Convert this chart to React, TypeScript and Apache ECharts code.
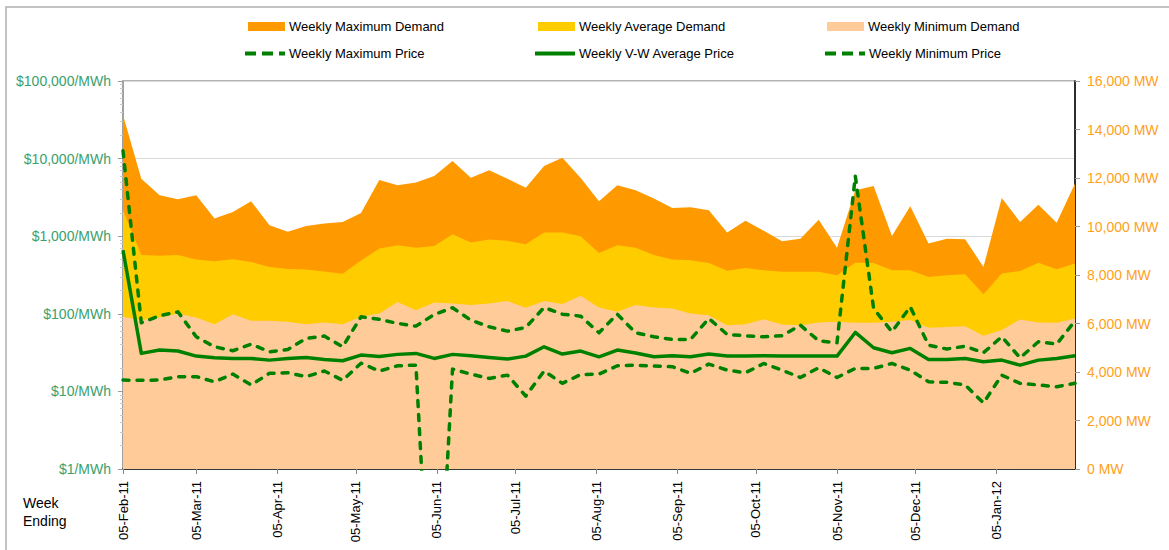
import React, { useEffect, useRef } from "react";
import * as echarts from "echarts";

const weekEnding = [
  "2011-02-05", "2011-02-12", "2011-02-19", "2011-02-26",
  "2011-03-05", "2011-03-12", "2011-03-19", "2011-03-26",
  "2011-04-02", "2011-04-09", "2011-04-16", "2011-04-23", "2011-04-30",
  "2011-05-07", "2011-05-14", "2011-05-21", "2011-05-28",
  "2011-06-04", "2011-06-11", "2011-06-18", "2011-06-25",
  "2011-07-02", "2011-07-09", "2011-07-16", "2011-07-23", "2011-07-30",
  "2011-08-06", "2011-08-13", "2011-08-20", "2011-08-27",
  "2011-09-03", "2011-09-10", "2011-09-17", "2011-09-24",
  "2011-10-01", "2011-10-08", "2011-10-15", "2011-10-22", "2011-10-29",
  "2011-11-05", "2011-11-12", "2011-11-19", "2011-11-26",
  "2011-12-03", "2011-12-10", "2011-12-17", "2011-12-24", "2011-12-31",
  "2012-01-07", "2012-01-14", "2012-01-21", "2012-01-28", "2012-02-04",
];

const tickDates = [
  "2011-02-05", "2011-03-05", "2011-04-05", "2011-05-05", "2011-06-05", "2011-07-05",
  "2011-08-05", "2011-09-05", "2011-10-05", "2011-11-05", "2011-12-05", "2012-01-05",
];
const tickLabels = [
  "05-Feb-11", "05-Mar-11", "05-Apr-11", "05-May-11", "05-Jun-11", "05-Jul-11",
  "05-Aug-11", "05-Sep-11", "05-Oct-11", "05-Nov-11", "05-Dec-11", "05-Jan-12",
];

const maxDemand = [14600, 11970, 11290, 11120, 11290, 10330, 10600, 11040, 10050, 9780, 10020, 10120, 10190, 10560, 11920, 11700, 11810, 12080, 12700, 12010, 12320, 11970, 11600, 12490, 12840, 12000, 11040, 11700, 11490, 11150, 10760, 10790, 10670, 9750, 10240, 9820, 9390, 9500, 10280, 9120, 11490, 11670, 9610, 10830, 9300, 9500, 9470, 8330, 11180, 10190, 10900, 10150, 11770];
const avgDemand = [10670, 8820, 8790, 8820, 8640, 8570, 8650, 8540, 8330, 8250, 8230, 8140, 8050, 8600, 9090, 9230, 9120, 9200, 9680, 9340, 9460, 9410, 9270, 9750, 9750, 9600, 8910, 9230, 9120, 8820, 8640, 8610, 8500, 8180, 8290, 8200, 8130, 8130, 8130, 7990, 8510, 8500, 8200, 8200, 7920, 7990, 8030, 7210, 8060, 8170, 8510, 8240, 8470];
const minDemand = [6280, 6140, 6250, 6410, 6250, 5970, 6380, 6110, 6110, 6070, 5970, 6040, 5970, 6280, 6410, 6890, 6550, 6870, 6820, 6760, 6820, 6930, 6650, 6930, 6800, 7140, 6660, 6480, 6760, 6660, 6620, 6410, 6340, 5930, 5970, 6180, 5960, 5930, 6040, 6070, 6030, 6030, 6070, 6140, 5820, 5860, 5890, 5490, 5730, 6170, 6040, 6030, 6210];
const maxPrice = [12600, 76.6, 94.2, 106, 50.6, 37.6, 33.4, 40.7, 32.4, 34.7, 48.1, 51.6, 37.6, 91.5, 85, 75.1, 69.4, 98, 119.5, 82.9, 68, 59.8, 66.7, 120.7, 99, 93.3, 56.9, 99, 57, 50.6, 46.7, 46.7, 87.1, 54.2, 52.1, 50.6, 52.1, 71.4, 44.9, 42.3, 5950, 117, 58.7, 123, 39.5, 35.1, 38.3, 31.5, 50.6, 27.1, 43.6, 40.7, 81.3];
const vwPrice = [660, 30.9, 34.1, 33.1, 28.5, 27.1, 26.6, 26.6, 25.3, 26.6, 27.4, 25.8, 24.8, 29.4, 28.2, 30, 30.9, 26.6, 30, 28.8, 27.4, 26.1, 28.5, 37.6, 30.3, 33.1, 27.9, 34.1, 31.2, 27.9, 28.8, 27.9, 30.3, 28.5, 28.5, 28.8, 28.5, 28.5, 28.5, 28.5, 57.5, 36.5, 31.5, 35.8, 25.8, 25.8, 26.6, 24.1, 25.3, 21.8, 25.3, 26.6, 28.8];
const minPrice = [14, 13.9, 14, 15.5, 15.5, 13.3, 16.7, 12.1, 17.1, 17.4, 15.5, 18.3, 13.9, 23.1, 18.3, 21.4, 21.8, 0.001, 19.4, 16.7, 14.7, 16.2, 8.7, 18.3, 12.7, 16.5, 16.7, 21.4, 21.8, 21.2, 20.8, 17.1, 22.5, 18.8, 17.4, 22.9, 18.8, 15.1, 20.2, 15.1, 19.8, 19.8, 22.9, 18.8, 13.3, 13.1, 12.1, 7.1, 16.2, 12.7, 12.1, 11.5, 12.7];

const minorPriceTicks = [
  2, 3, 4, 5, 6, 7, 8, 9, 20, 30, 40, 50, 60, 70, 80, 90,
  200, 300, 400, 500, 600, 700, 800, 900, 2000, 3000, 4000, 5000, 6000, 7000, 8000, 9000,
  20000, 30000, 40000, 50000, 60000, 70000, 80000, 90000,
];

const FONT = "'Liberation Sans', Arial, sans-serif";
const GREEN = "#008000";
const MAX_COLOR = "#ff9900";
const AVG_COLOR = "#ffcc00";
const MIN_COLOR = "#ffcc99";
const DASH_ICON = "path://M0,0h11v4h-11zM17,0h11v4h-11zM34,0h6v4h-6z";
const SOLID_ICON = "path://M0,0h40v4h-40z";

const dayOffset = (d: string) =>
  Math.round((Date.parse(d) - Date.parse(weekEnding[0])) / 86400000);

export default function App() {
  const ref = useRef<HTMLDivElement>(null);

  useEffect(() => {
    if (!ref.current) return;
    const chart = echarts.init(ref.current, null, { renderer: "svg" });
    const xs = weekEnding.map(dayOffset);
    const tickDays = tickDates.map(dayOffset);
    const pair = (arr: number[]) => xs.map((x, i) => [x, arr[i]]);

    const areaSeries = (name: string, arr: number[], color: string) => ({
      name,
      type: "line",
      yAxisIndex: 1,
      data: pair(arr),
      symbol: "none",
      lineStyle: { width: 0, color },
      itemStyle: { color },
      areaStyle: { color, opacity: 1 },
    });
    const priceSeries = (name: string, arr: number[], dashed: boolean) => ({
      name,
      type: "line",
      yAxisIndex: 0,
      data: pair(arr),
      symbol: "none",
      clip: true,
      itemStyle: { color: GREEN },
      lineStyle: {
        color: GREEN,
        width: 3.5,
        type: dashed ? [6, 8] : "solid",
        cap: dashed ? "round" : "butt",
        join: "round",
      },
    });

    const legendItem = (name: string, left: number, top: number, icon: string, color: string) => {
      const isRect = icon === "rect";
      return {
        data: [{ name, icon, itemStyle: { color, borderWidth: 0, opacity: 1 } }],
        left,
        top,
        padding: 0,
        itemGap: 0,
        itemWidth: isRect ? 37 : 40,
        itemHeight: isRect ? 9 : 4,
        selectedMode: false,
        itemStyle: { color, borderWidth: 0, opacity: 1 },
        textStyle: { fontSize: 13, color: "#000", fontFamily: FONT, padding: [0, 0, 0, -1] },
      };
    };

    chart.setOption({
      animation: false,
      backgroundColor: "#fff",
      textStyle: { fontFamily: FONT },
      grid: { left: 123, right: 94, top: 81, bottom: 81, show: true, borderColor: "#9a9a9a", borderWidth: 1.5 },
      legend: [
        legendItem("Weekly Maximum Demand", 248, 20, "rect", MAX_COLOR),
        legendItem("Weekly Average Demand", 538, 20, "rect", AVG_COLOR),
        legendItem("Weekly Minimum Demand", 827, 20, "rect", MIN_COLOR),
        legendItem("Weekly Maximum Price", 245, 47, DASH_ICON, GREEN),
        legendItem("Weekly V-W Average Price", 535, 47, SOLID_ICON, GREEN),
        legendItem("Weekly Minimum Price", 825, 47, DASH_ICON, GREEN),
      ],
      xAxis: {
        type: "value",
        min: 0,
        max: xs[xs.length - 1],
        axisLine: { show: true, lineStyle: { color: "#000", width: 1.5 } },
        axisTick: { show: true, customValues: tickDays, length: 5, lineStyle: { color: "#888" } },
        axisLabel: {
          customValues: tickDays,
          rotate: 90,
          margin: 12,
          fontSize: 13,
          color: "#000",
          fontFamily: FONT,
          formatter: (v: number) => {
            const k = tickDays.indexOf(Math.round(v));
            return k >= 0 ? tickLabels[k] : "";
          },
        },
        splitLine: { show: false },
      },
      yAxis: [
        {
          type: "log",
          logBase: 10,
          min: 1,
          max: 100000,
          position: "left",
          axisLine: { show: true, lineStyle: { color: "#9a9a9a", width: 1.5 } },
          axisTick: { show: true, length: 5, lineStyle: { color: "#9a9a9a" } },
          axisLabel: {
            margin: 12,
            fontSize: 14,
            color: "#3aa16c",
            fontFamily: FONT,
            formatter: (v: number) => "$" + Math.round(v).toLocaleString("en-US") + "/MWh",
          },
          splitLine: { show: true, lineStyle: { color: "#d9d9d9", width: 1 } },
        },
        {
          type: "value",
          min: 0,
          max: 16000,
          interval: 2000,
          position: "right",
          axisLine: { show: true, lineStyle: { color: "#000", width: 1.5 } },
          axisTick: { show: true, length: 5, lineStyle: { color: "#9a9a9a" } },
          axisLabel: {
            margin: 12,
            fontSize: 14,
            color: "#ff9f1a",
            fontFamily: FONT,
            formatter: (v: number) => v.toLocaleString("en-US") + " MW",
          },
          splitLine: { show: false },
        },
        {
          type: "log",
          logBase: 10,
          min: 1,
          max: 100000,
          position: "left",
          axisLine: { show: false },
          axisTick: { show: true, customValues: minorPriceTicks, length: 3, lineStyle: { color: "#c8c8c8" } },
          axisLabel: { show: false },
          splitLine: { show: false },
        },
      ],
      series: [
        areaSeries("Weekly Maximum Demand", maxDemand, MAX_COLOR),
        areaSeries("Weekly Average Demand", avgDemand, AVG_COLOR),
        areaSeries("Weekly Minimum Demand", minDemand, MIN_COLOR),
        priceSeries("Weekly Maximum Price", maxPrice, true),
        priceSeries("Weekly V-W Average Price", vwPrice, false),
        priceSeries("Weekly Minimum Price", minPrice, true),
      ],
      graphic: [
        {
          type: "rect",
          shape: { x: 6, y: 7, width: 1200, height: 700 },
          style: { fill: "none", stroke: "#b0b0b0", lineWidth: 1.5 },
          silent: true,
        },
        {
          type: "text",
          left: 23,
          top: 494,
          style: { text: "Week\nEnding", font: `14px ${FONT}`, fill: "#000", lineHeight: 18 },
        },
      ],
    });
    return () => chart.dispose();
  }, []);

  return (
    <div
      ref={ref}
      style={{ position: "fixed", left: 0, top: 0, width: 1169, height: 550, background: "#fff" }}
    />
  );
}
